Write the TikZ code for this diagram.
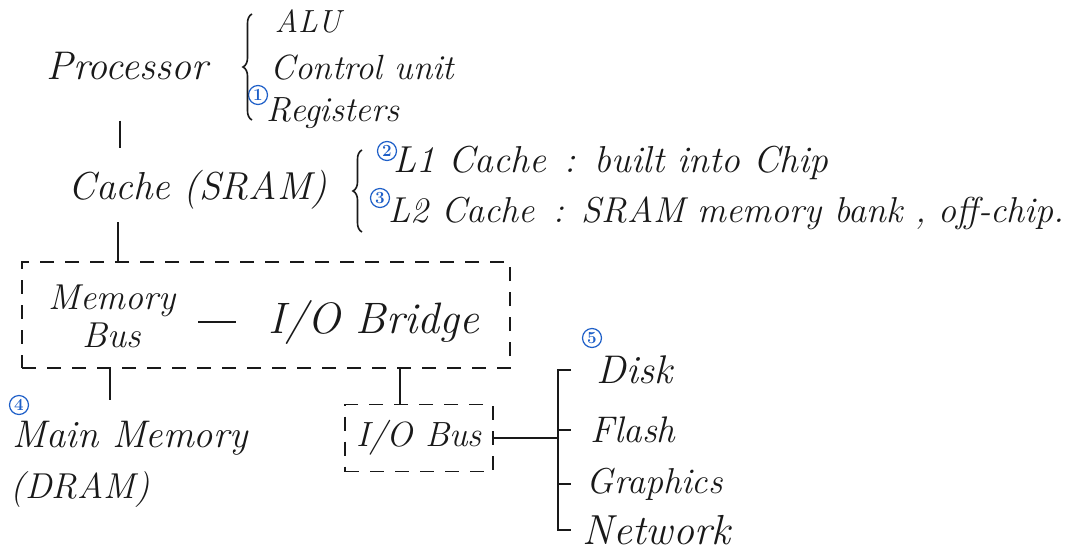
\documentclass[tikz,border=0pt]{standalone}
\usepackage{fontspec}
\usetikzlibrary{decorations.pathreplacing}
\definecolor{ink}{RGB}{25,25,25}
\definecolor{pen}{RGB}{30,95,200}
\begin{document}
\begin{tikzpicture}[x=1pt,y=-1pt,line width=1.6pt,draw=ink,
  txt/.style={font=\fontsize{#1}{#1}\selectfont\itshape,text=ink,inner sep=2pt,anchor=west},
  txt/.default=36,
  circnum/.style={circle,draw=pen,text=pen,line width=1.2pt,inner sep=0pt,minimum size=19pt,font=\fontsize{17}{17}\selectfont\bfseries},
  dbox/.style={draw=ink,dash pattern=on 14pt off 11pt,line width=1.5pt},
  bracegr/.style={decorate,decoration={brace,amplitude=9pt},line width=1.6pt}]
\useasboundingbox (0,0) rectangle (1086,555);

% processor group
\node[txt=40] (proc) at (44,66) {Processor};
\node[txt=32] (alu) at (272,21) {ALU};
\node[txt=35] (cu) at (268,68) {Control unit};
\node[circnum] (c1) at (258,95) {1};
\node[txt=35] (reg) at (264,113) {Registers};
\draw[bracegr] (252,120) -- (252,14);

% cache group
\node[txt=39] (cache) at (66,190) {Cache (SRAM)};
\node[circnum] (c2) at (387,151) {2};
\node[txt=37.5] (l1) at (391,163) {L1 Cache\enspace:\enspace built into Chip};
\node[circnum] (c3) at (380,198) {3};
\node[txt=36] (l2) at (386,213) {L2 Cache\enspace:\enspace SRAM memory bank , off-chip.};
\draw[bracegr] (362,232) -- (362,150);

% bridge box
\node[dbox,minimum width=488pt,minimum height=106pt] (bridgebox) at (266,315) {};
\node[txt=36,anchor=center,align=center] (membus) at (112,316) {Memory\\[2pt]Bus};
\node[txt=44] (bridge) at (266,322) {I/O Bridge};

% main memory
\node[circnum] (c4) at (19,405) {4};
\node[txt=38.5] (mainmem) at (10,438) {Main Memory};
\node[txt=36] (dram) at (8,490) {(DRAM)};

% io bus
\node[dbox,txt=35,anchor=center,minimum width=148pt,minimum height=67pt] (iobus) at (419,438) {I/O Bus};

% devices
\node[circnum] (c5) at (592,338) {5};
\node[txt=40] (disk) at (594,370) {Disk};
\node[txt=37] (flash) at (588,430) {Flash};
\node[txt=36] (graphics) at (584,484) {Graphics};
\node[txt=42] (network) at (580,530) {Network};

% connectors
\coordinate (v1) at (120,0);
\coordinate (v2) at (118,0);
\coordinate (v3) at (110,0);
\coordinate (v4) at (400,0);
\coordinate (br) at (558,0);
\coordinate (bt) at (571,0);
\draw[shorten <=38pt,shorten >=20pt] (proc.south -| v1) -- (cache.north -| v1);
\draw[shorten <=10pt] (cache.south -| v2) -- (bridgebox.north -| v2);
\draw[shorten >=18pt] (bridgebox.south -| v3) -- (mainmem.north -| v3);
\draw (bridgebox.south -| v4) -- (iobus.north -| v4);
\draw (membus.east |- bridge.west) ++(20,0) -- ++(38,0);
\draw (iobus.east) -- (iobus.east -| br);
\draw (bt |- disk.west) -- (br |- disk.west) -- (br |- network.west) -- (bt |- network.west);
\draw (br |- flash.west) -- (bt |- flash.west);
\draw (br |- graphics.west) -- (bt |- graphics.west);
\end{tikzpicture}
\end{document}
